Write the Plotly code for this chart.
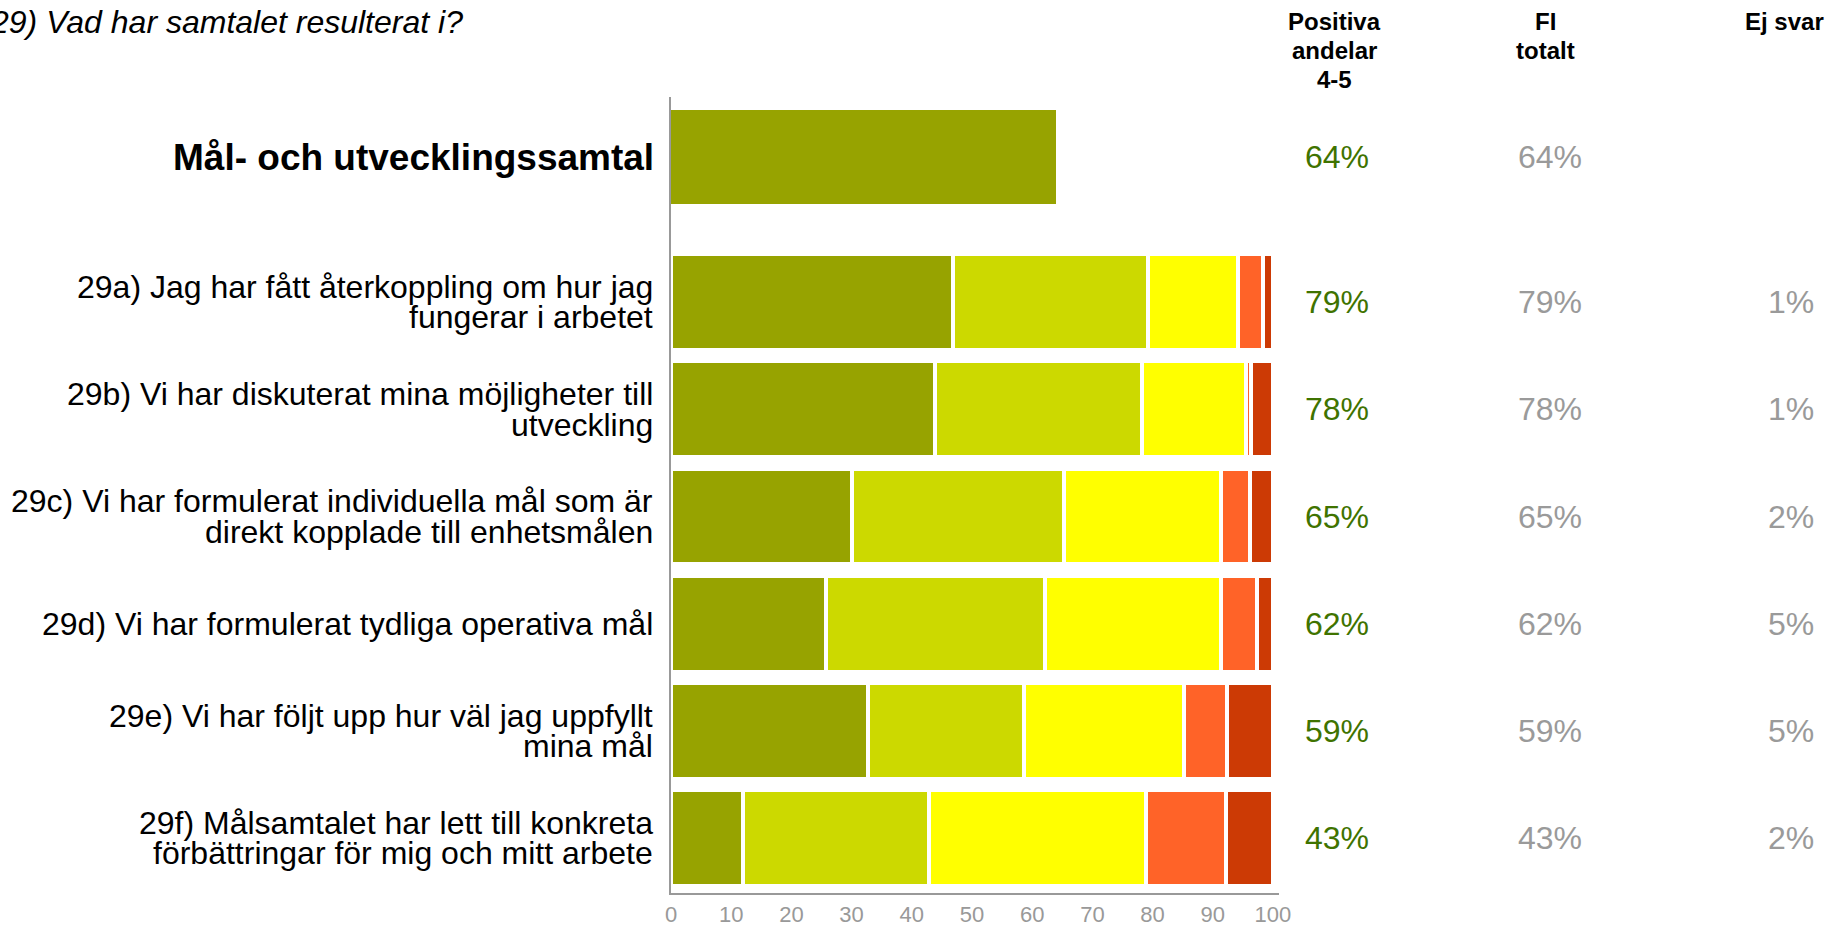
import plotly.graph_objects as go

# ---- data ----
categories = [
    "29a) Jag har fått återkoppling om hur jag\nfungerar i arbetet",
    "29b) Vi har diskuterat mina möjligheter till\nutveckling",
    "29c) Vi har formulerat individuella mål som är\ndirekt kopplade till enhetsmålen",
    "29d) Vi har formulerat tydliga operativa mål",
    "29e) Vi har följt upp hur väl jag uppfyllt\nmina mål",
    "29f) Målsamtalet har lett till konkreta\nförbättringar för mig och mitt arbete",
]
index_label = "Mål- och utvecklingssamtal"
index_value = 64

s5 = [46.9, 43.9, 30.0, 25.7, 32.7, 12.0]
s4 = [32.3, 34.3, 35.3, 36.5, 26.0, 30.8]
s3 = [15.0, 17.3, 26.0, 29.1, 26.6, 36.1]
s2 = [4.2, 0.9, 4.9, 6.1, 7.1, 13.3]
s1 = [1.6, 3.6, 3.8, 2.6, 7.6, 7.8]

positiva = [79, 78, 65, 62, 59, 43]
fi_totalt = [79, 78, 65, 62, 59, 43]
ej_svar = [1, 1, 2, 5, 5, 2]
index_positiva = 64
index_fi = 64

title = "29) Vad har samtalet resulterat i?"
headers = [["Positiva", "andelar", "4-5"], ["FI", "totalt"], ["Ej svar"]]
x_ticks = [0, 10, 20, 30, 40, 50, 60, 70, 80, 90, 100]

colors = ["#97A300", "#CCD900", "#FFFF00", "#FF6328", "#CC3A05"]

# ---- layout geometry (page pixels) ----
W, H = 1827, 927
L, T, B = 671, 97, 34
PW = 608
R = W - L - PW
PH = H - T - B

def xp(px):
    return (px - L) / PW

def yp(py):
    return (H - B - py) / PH

n = len(categories)
row_y = [n - 1 - i for i in range(n)]
top_y = n - 1 + 1.355

FONT = "Arial, 'Liberation Sans', sans-serif"

fig = go.Figure()

fig.add_trace(go.Bar(
    x=[index_value], y=[top_y], orientation="h", width=0.88,
    marker=dict(color=colors[0], line=dict(width=0)),
    showlegend=False, hoverinfo="skip",
))

for vals, col in zip([s5, s4, s3, s2, s1], colors):
    fig.add_trace(go.Bar(
        x=vals, y=row_y, orientation="h", width=0.895,
        marker=dict(color=col, line=dict(color="white", width=4)),
        showlegend=False, hoverinfo="skip",
    ))

annotations = []

# left labels
annotations.append(dict(
    text=f"<b>{index_label}</b>", x=xp(656), xref="paper", y=top_y, yref="y",
    xanchor="right", yanchor="middle", showarrow=False,
    font=dict(family=FONT, size=37, color="black"),
))
LINE = 30.5
for cat, yv in zip(categories, row_y):
    lines = cat.split("\n")
    k = len(lines)
    for j, line in enumerate(lines):
        shift = (k - 1) / 2 * LINE - j * LINE
        annotations.append(dict(
            text=line, x=xp(655), xref="paper", y=yv, yref="y", yshift=shift,
            xanchor="right", yanchor="middle", showarrow=False,
            font=dict(family=FONT, size=32, color="black"),
        ))

# right columns
GREEN = "#3F7300"
GRAY = "#9A9A9A"
annotations.append(dict(text=f"{index_positiva}%", x=xp(1337), xref="paper", y=top_y, yref="y",
                        xanchor="center", yanchor="middle", showarrow=False,
                        font=dict(family=FONT, size=32, color=GREEN)))
annotations.append(dict(text=f"{index_fi}%", x=xp(1550), xref="paper", y=top_y, yref="y",
                        xanchor="center", yanchor="middle", showarrow=False,
                        font=dict(family=FONT, size=32, color=GRAY)))
for yv, p, f, e in zip(row_y, positiva, fi_totalt, ej_svar):
    annotations.append(dict(text=f"{p}%", x=xp(1337), xref="paper", y=yv, yref="y",
                            xanchor="center", yanchor="middle", showarrow=False,
                            font=dict(family=FONT, size=32, color=GREEN)))
    annotations.append(dict(text=f"{f}%", x=xp(1550), xref="paper", y=yv, yref="y",
                            xanchor="center", yanchor="middle", showarrow=False,
                            font=dict(family=FONT, size=32, color=GRAY)))
    annotations.append(dict(text=f"{e}%", x=xp(1816), xref="paper", y=yv, yref="y",
                            xanchor="right", yanchor="middle", showarrow=False,
                            font=dict(family=FONT, size=32, color=GRAY)))

# headers
header_x = [(1334, "center"), (1545, "center"), (1826, "right")]
for hlines, (hx, anc) in zip(headers, header_x):
    for j, hl in enumerate(hlines):
        annotations.append(dict(text=f"<b>{hl}</b>", x=xp(hx), xref="paper",
                                y=yp(21.5 + 29.2 * j), yref="paper",
                                xanchor=anc, yanchor="middle", showarrow=False,
                                font=dict(family=FONT, size=24, color="black")))

# title
annotations.append(dict(text=f"<i>{title}</i>", x=xp(465), xref="paper", y=yp(22), yref="paper",
                        xanchor="right", yanchor="middle", showarrow=False,
                        font=dict(family=FONT, size=32, color="black")))

fig.update_layout(
    width=W, height=H,
    margin=dict(l=L, r=R, t=T, b=B, pad=0, autoexpand=False),
    barmode="stack", bargap=0,
    plot_bgcolor="white", paper_bgcolor="white",
    annotations=annotations,
    xaxis=dict(range=[0, 101], tickvals=x_ticks, ticks="", showgrid=False, zeroline=False,
               showline=True, linecolor="#999999", linewidth=2, ticklabelstandoff=1,
               automargin=False,
               tickfont=dict(family=FONT, size=22, color="#999999")),
    yaxis=dict(range=[-0.513, 6.915], showticklabels=False, ticks="", showgrid=False,
               zeroline=False, showline=True, linecolor="#999999", linewidth=2,
               automargin=False),
)

fig.write_html("out.html", config={"displayModeBar": False},
               post_script="document.body.style.margin='0';")
